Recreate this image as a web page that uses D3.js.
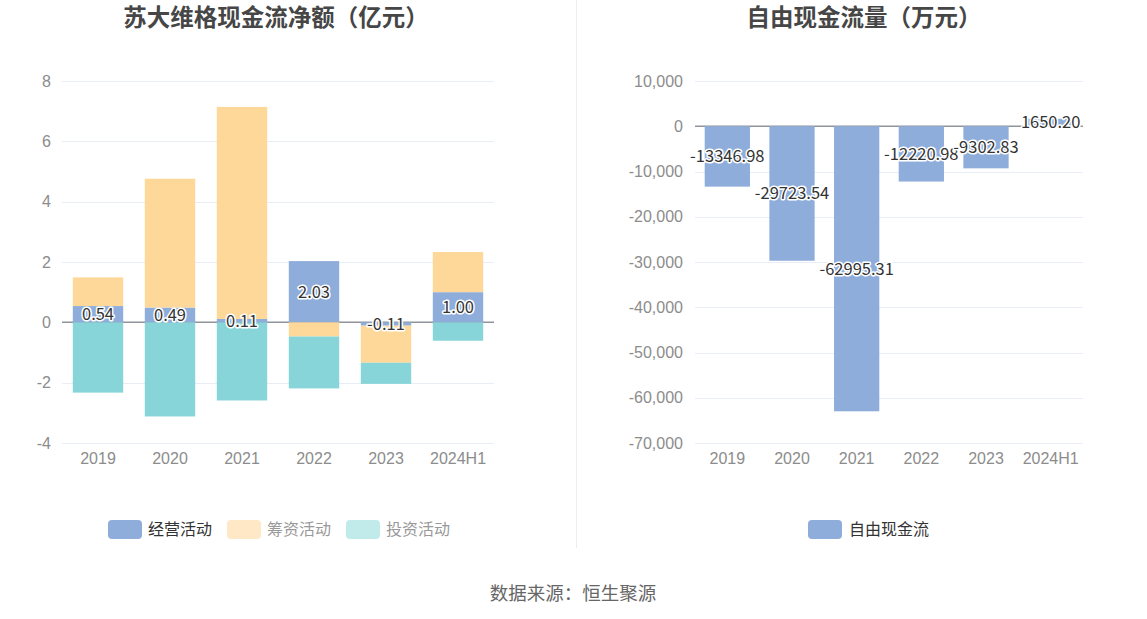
<!DOCTYPE html>
<html><head><meta charset="utf-8">
<script src="https://cdn.jsdelivr.net/npm/d3@7"></script>
<style>body{margin:0;background:#fff;} svg{font-family:"Noto Sans CJK SC","Noto Sans",sans-serif;display:block;}</style>
</head><body><svg id="c" width="1147" height="619"></svg>
<script>
const categories = ["2019","2020","2021","2022","2023","2024H1"];
const operating = [0.54, 0.49, 0.11, 2.03, -0.11, 1.00];
const financing = [0.95, 4.27, 7.03, -0.47, -1.23, 1.33];
const investing = [-2.33, -3.12, -2.59, -1.72, -0.70, -0.61];
const leftTicks = [-4, -2, 0, 2, 4, 6, 8];
const freeCashFlow = [-13346.98, -29723.54, -62995.31, -12220.98, -9302.83, 1650.20];
const rightTicks = [-70000, -60000, -50000, -40000, -30000, -20000, -10000, 0, 10000];
const leftSeriesNames = ["经营活动", "筹资活动", "投资活动"];
const rightSeriesNames = ["自由现金流"];

const svg = d3.select("#c");
const C_BLUE = "#8eaddb", C_ORANGE = "#fed899", C_TEAL = "#87d5d8";
const GRID = "#e9edf6", AXIS = "#8f949c", TICK = "#8c8c8c";
const fixMinus = f => d => f(d).replace("\u2212","-");

// divider
svg.append("line").attr("x1",576.5).attr("x2",576.5).attr("y1",0).attr("y2",548).attr("stroke","#eeeeee");

// titles
svg.append("text").attr("x",276).attr("y",26).attr("text-anchor","middle").attr("font-size",23.5).attr("font-weight","bold").attr("fill","#464646").text("苏大维格现金流净额（亿元）");
svg.append("text").attr("x",864).attr("y",26).attr("text-anchor","middle").attr("font-size",23.5).attr("font-weight","bold").attr("fill","#464646").text("自由现金流量（万元）");

function drawLabel(g, x, y, t){
  g.append("text").attr("x",x).attr("y",y).attr("dy","0.36em").attr("text-anchor","middle")
   .attr("font-size",16.5).attr("fill","#333").attr("stroke","#fff").attr("stroke-width",3)
   .attr("stroke-linejoin","round").attr("paint-order","stroke").text(t);
}

// ---------- left chart ----------
{
  const x = d3.scaleBand().domain(categories).range([62,494]).paddingInner(0.3).paddingOuter(0.15);
  const y = d3.scaleLinear().domain([-4,8]).range([443,81]);
  const g = svg.append("g");
  leftTicks.forEach(t=>{
    if(t!==0) g.append("line").attr("x1",62).attr("x2",494).attr("y1",Math.round(y(t))+0.5).attr("y2",Math.round(y(t))+0.5).attr("stroke",GRID);
  });
  const yAxis = d3.axisLeft(y).tickValues(leftTicks).tickSize(0).tickPadding(0).tickFormat(fixMinus(d3.format("d")));
  const ya = g.append("g").attr("transform","translate(51,0)").call(yAxis);
  ya.select(".domain").remove();
  ya.selectAll("text").attr("font-size",16).attr("fill",TICK).attr("font-family","inherit");
  g.append("line").attr("x1",62).attr("x2",494).attr("y1",y(0)).attr("y2",y(0)).attr("stroke",AXIS).attr("stroke-width",1.5);
  const xAxis = d3.axisBottom(x).tickSize(0).tickPadding(0);
  const xa = g.append("g").attr("transform","translate(0,453)").call(xAxis);
  xa.select(".domain").remove();
  xa.selectAll("text").attr("font-size",16).attr("fill",TICK).attr("dy","0.71em").attr("font-family","inherit");

  const series = [operating, financing, investing];
  const colors = [C_BLUE, C_ORANGE, C_TEAL];
  const segs = [];
  categories.forEach((c,i)=>{
    let pos=0, neg=0;
    series.forEach((s,k)=>{
      const v=s[i];
      let a,b;
      if(v>=0){a=pos;b=pos+v;pos=b;} else {a=neg;b=neg+v;neg=b;}
      segs.push({c,k,a,b,v});
    });
  });
  g.selectAll("rect.bar").data(segs).join("rect").attr("class","bar")
    .attr("x",d=>x(d.c)).attr("width",x.bandwidth())
    .attr("y",d=>Math.min(y(d.a),y(d.b))).attr("height",d=>Math.abs(y(d.a)-y(d.b)))
    .attr("fill",d=>colors[d.k]);
  segs.filter(d=>d.k===0).forEach(d=>{
    drawLabel(g, x(d.c)+x.bandwidth()/2, (y(d.a)+y(d.b))/2, d.v.toFixed(2));
  });

  // legend
  const leg = [{n:leftSeriesNames[0],c:"#8eaddb",t:"#333",x:108},{n:leftSeriesNames[1],c:"#fee8c5",t:"#999",x:227},{n:leftSeriesNames[2],c:"#c1eaeb",t:"#999",x:346}];
  leg.forEach(l=>{
    svg.append("rect").attr("x",l.x).attr("y",520).attr("width",34).attr("height",19).attr("rx",4).attr("fill",l.c);
    svg.append("text").attr("x",l.x+40).attr("y",529.5).attr("dy","0.36em").attr("font-size",16).attr("fill",l.t).text(l.n);
  });
}

// ---------- right chart ----------
{
  const x = d3.scaleBand().domain(categories).range([695,1083]).paddingInner(0.3).paddingOuter(0.15);
  const y = d3.scaleLinear().domain([-70000,10000]).range([443,81]);
  const g = svg.append("g");
  rightTicks.forEach(t=>{
    if(t!==0) g.append("line").attr("x1",695).attr("x2",1083).attr("y1",Math.round(y(t))+0.5).attr("y2",Math.round(y(t))+0.5).attr("stroke",GRID);
  });
  const yAxis = d3.axisLeft(y).tickValues(rightTicks).tickSize(0).tickPadding(0).tickFormat(fixMinus(d3.format(",")));
  const ya = g.append("g").attr("transform","translate(683,0)").call(yAxis);
  ya.select(".domain").remove();
  ya.selectAll("text").attr("font-size",16).attr("fill",TICK).attr("font-family","inherit");
  g.append("line").attr("x1",695).attr("x2",1083).attr("y1",y(0)).attr("y2",y(0)).attr("stroke",AXIS).attr("stroke-width",1.5);
  const xAxis = d3.axisBottom(x).tickSize(0).tickPadding(0);
  const xa = g.append("g").attr("transform","translate(0,453)").call(xAxis);
  xa.select(".domain").remove();
  xa.selectAll("text").attr("font-size",16).attr("fill",TICK).attr("dy","0.71em").attr("font-family","inherit");

  const data = categories.map((c,i)=>({c,v:freeCashFlow[i]}));
  g.selectAll("rect.bar").data(data).join("rect").attr("class","bar")
    .attr("x",d=>x(d.c)).attr("width",x.bandwidth())
    .attr("y",d=>Math.min(y(0),y(d.v))).attr("height",d=>Math.abs(y(0)-y(d.v)))
    .attr("fill",C_BLUE);
  data.forEach(d=>{
    drawLabel(g, x(d.c)+x.bandwidth()/2, (y(0)+y(d.v))/2, d.v.toFixed(2));
  });

  svg.append("rect").attr("x",808).attr("y",520).attr("width",34).attr("height",19).attr("rx",4).attr("fill","#8eaddb");
  svg.append("text").attr("x",849).attr("y",529.5).attr("dy","0.36em").attr("font-size",16).attr("fill","#333").text(rightSeriesNames[0]);
}

// source
svg.append("text").attr("x",573).attr("y",593).attr("dy","0.36em").attr("text-anchor","middle").attr("font-size",18.5).attr("fill","#666").text("数据来源：恒生聚源");
</script></body></html>
